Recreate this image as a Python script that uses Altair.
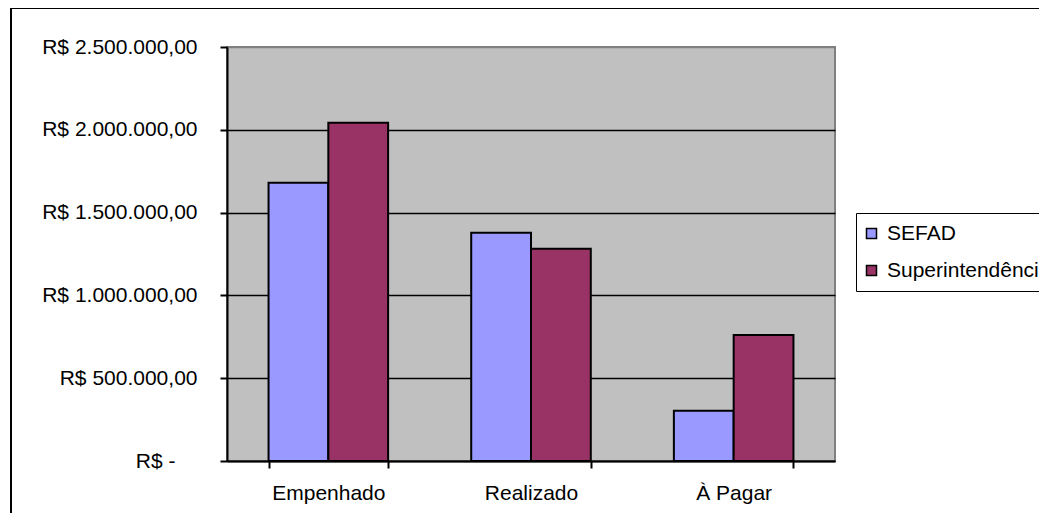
import altair as alt
import pandas as pd

categories = ["Empenhado", "Realizado", "À Pagar"]
series_names = ["SEFAD", "Superintendência"]
sefad_values = [1681000, 1379000, 304000]
super_values = [2043000, 1282000, 761000]
series_colors = ["#9999FF", "#993366"]

y_ticks = [0, 500000, 1000000, 1500000, 2000000, 2500000]
y_tick_labels = ["R$ -", "R$ 500.000,00", "R$ 1.000.000,00",
                 "R$ 1.500.000,00", "R$ 2.000.000,00", "R$ 2.500.000,00"]

rows = []
for c, v in zip(categories, sefad_values):
    rows.append({"categoria": c, "serie": series_names[0], "valor": v})
for c, v in zip(categories, super_values):
    rows.append({"categoria": c, "serie": series_names[1], "valor": v})
df = pd.DataFrame(rows)

label_expr = "''"
for t, l in reversed(list(zip(y_ticks, y_tick_labels))):
    label_expr = f"datum.value == {t} ? '{l}' : ({label_expr})"

FONT = "Liberation Sans"
FS = 21

bars = alt.Chart(df).mark_bar(stroke="black", strokeWidth=2).encode(
    x=alt.X("categoria:N", sort=categories,
            scale=alt.Scale(paddingInner=0.41, paddingOuter=0.205),
            axis=alt.Axis(title=None, labelAngle=0, tickBand="extent", tickSize=7,
                          tickWidth=2, tickColor="black", domainColor="black",
                          domainWidth=2, labelFontSize=FS, labelFont=FONT,
                          labelColor="black", labelPadding=14, grid=False)),
    xOffset=alt.XOffset("serie:N", sort=series_names,
                        scale=alt.Scale(paddingInner=0, paddingOuter=0)),
    y=alt.Y("valor:Q", scale=alt.Scale(domain=[0, 2500000], nice=False),
            axis=alt.Axis(title=None, values=y_ticks, labelExpr=label_expr,
                          tickSize=7, tickWidth=2, tickColor="black",
                          domainColor="black", domainWidth=2,
                          labelFontSize=FS, labelFont=FONT, labelColor="black",
                          labelPadding={"condition": {"test": "datum.value == 0",
                                                      "value": 45},
                                        "value": 23},
                          gridColor={"condition": {"test": "datum.value == 2500000",
                                                   "value": "#808080"},
                                     "value": "black"},
                          gridWidth=1.5)),
    color=alt.Color("serie:N", sort=series_names,
                    scale=alt.Scale(domain=series_names, range=series_colors),
                    legend=alt.Legend(title=None, orient="none", legendX=629, legendY=166,
                                      symbolType="square", symbolSize=100,
                                      symbolStrokeColor="black", symbolStrokeWidth=1.5,
                                      symbolOffset=-5,
                                      labelFontSize=FS, labelFont=FONT, labelColor="black",
                                      labelOffset=5, rowPadding=15, padding=10,
                                      strokeColor="black", fillColor="white",
                                      labelLimit=400)),
)

frame = alt.Chart(pd.DataFrame({"a": [0]})).mark_rect(
    fillOpacity=0, stroke="black", strokeWidth=2
).encode(
    x=alt.value(-216), x2=alt.value(1000), y=alt.value(-39), y2=alt.value(700)
)

chart = alt.layer(bars, frame).properties(
    width=608, height=414,
    padding={"left": 219, "top": 39, "right": 204, "bottom": 52},
    autosize=alt.AutoSizeParams(type="none"),
    background="white",
).configure_view(
    fill="#C0C0C0", stroke="#808080", strokeWidth=2
)

chart.save("out.html", embed_options={"renderer": "svg", "actions": False})
